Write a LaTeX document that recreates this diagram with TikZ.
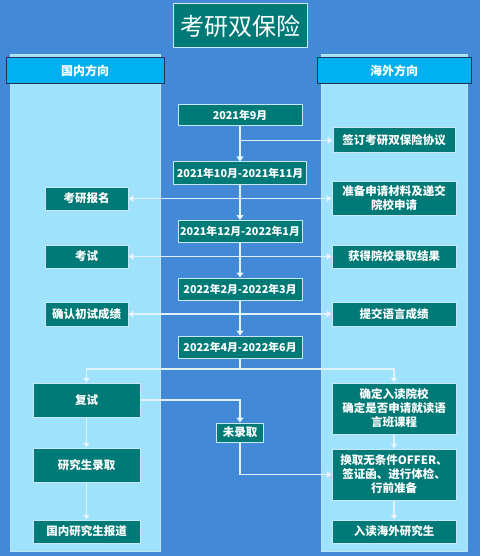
\documentclass[tikz,border=0pt]{standalone}
\usepackage{fontspec}
\setmainfont{Noto Sans CJK SC}
\usepackage{tikz}
\usetikzlibrary{positioning}
\usetikzlibrary{arrows.meta}
\definecolor{bgblue}{RGB}{66,137,216}
\definecolor{panelblue}{RGB}{158,226,252}
\definecolor{panelline}{RGB}{190,228,245}
\definecolor{hdrblue}{RGB}{0,176,240}
\definecolor{hdrline}{RGB}{30,52,82}
\definecolor{boxteal}{RGB}{0,122,118}
\definecolor{boxline}{RGB}{200,232,246}
\definecolor{linkline}{RGB}{224,242,252}

\begin{document}
\begin{tikzpicture}[x=1pt, y=-1pt, line width=1pt,
    box/.style={draw=boxline, fill=boxteal, text=white, inner sep=0pt, align=center,
      font=\bfseries\fontsize{11.5}{14}\selectfont},
    datebox/.style={box, minimum width=124pt, minimum height=22pt,
      font=\bfseries\fontsize{10.8}{13}\selectfont},
    hdr/.style={draw=hdrline, fill=hdrblue, text=white, inner sep=0pt,
      minimum width=156pt, minimum height=26pt, font=\bfseries\fontsize{12}{14}\selectfont},
    link/.style={draw=linkline, line width=1.2pt},
    arr/.style={link, -{Triangle[width=7pt,length=5pt,fill=white]}},
    arrs/.style={link, {Triangle[width=7pt,length=5pt,fill=white]}-{Triangle[width=7pt,length=5pt,fill=white]}}]

    \useasboundingbox (0,0) rectangle (480,556);
    \fill[bgblue] (0,0) rectangle (480,556);

    \filldraw[fill=panelblue, draw=panelline] (10,55) rectangle (160,551);
    \filldraw[fill=panelblue, draw=panelline] (321,55) rectangle (467,551);

    \node[box, draw=boxline, minimum width=134pt, minimum height=44pt,
      font=\fontsize{24}{28}\selectfont] (T) at (240,26) {考研双保险};

    \node[hdr, minimum width=158pt] (HL) at (85,71) {国内方向};
    \node[hdr, minimum width=154pt] (HR) at (394,71) {海外方向};

    \node[datebox, minimum height=21pt] (D1) at (240,115.5) {2021年9月};
    \node[datebox, minimum width=133pt] (D2) at (240,173) {2021年10月-2021年11月};
    \node[datebox] (D3) at (240,231.5) {2021年12月-2022年1月};
    \node[datebox] (D4) at (240,289) {2022年2月-2022年3月};
    \node[datebox] (D5) at (240,347) {2022年4月-2022年6月};

    \node[box, minimum width=122pt, minimum height=25pt] (R1) at (394,140.5) {签订考研双保险协议};
    \node[box, minimum width=124pt, minimum height=34pt] (R2) at (394,198.5) {准备申请材料及递交\\院校申请};
    \node[box, minimum width=124pt, minimum height=23pt] (R3) at (394,256.5) {获得院校录取结果};
    \node[box, minimum width=124pt, minimum height=24pt] (R4) at (394,314) {提交语言成绩};
    \node[box, minimum width=124pt, minimum height=51pt] (R5) at (394,408.5) {确定入读院校\\确定是否申请就读语\\言班课程};
    \node[box, minimum width=124pt, minimum height=51pt] (R6) at (394,474.5) {换取无条件OFFER、\\签证函、进行体检、\\行前准备};
    \node[box, minimum width=124pt, minimum height=23pt] (R7) at (394,531.5) {入读海外研究生};

    \node[box, minimum width=83pt, minimum height=23pt] (L1) at (86.5,198.5) {考研报名};
    \node[box, minimum width=83pt, minimum height=23pt] (L2) at (86.5,256.5) {考试};
    \node[box, minimum width=83pt, minimum height=24pt] (L3) at (86.5,314) {确认初试成绩};
    \node[box, minimum width=107pt, minimum height=34pt] (L4) at (86.5,400) {复试};
    \node[box, minimum width=107pt, minimum height=34pt] (L5) at (86.5,465) {研究生录取};
    \node[box, minimum width=107pt, minimum height=23pt] (L6) at (86.5,531.5) {国内研究生报道};

    \node[box, minimum width=47pt, minimum height=19pt] (N) at (240,432.5) {未录取};

    \coordinate (S) at (240,369);

    \draw[arr] (D1) -- (D2);
    \draw[arr] (D1.south |- R1.west) -- (R1.west);
    \draw[arr] (D2) -- (D3);
    \draw[arrs] (L1.east) -- (R2.west);
    \draw[arr] (D3) -- (D4);
    \draw[arrs] (L2.east) -- (R3.west);
    \draw[arr] (D4) -- (D5);
    \draw[arrs] (L3.east) -- (R4.west);
    \draw[link] (D5.south) -- (S);
    \draw[arr] (S) -| (L4.north);
    \draw[arr] (S) -| (R5.north);
    \draw[arr] (L4.east) -| (N.north);
    \draw[arr] (N.south) |- (R6.west);
    \draw[arr] (L4) -- (L5);
    \draw[arr] (L5) -- (L6);
    \draw[arr] (R5) -- (R6);
    \draw[arr] (R6) -- (R7);
\end{tikzpicture}
\end{document}
